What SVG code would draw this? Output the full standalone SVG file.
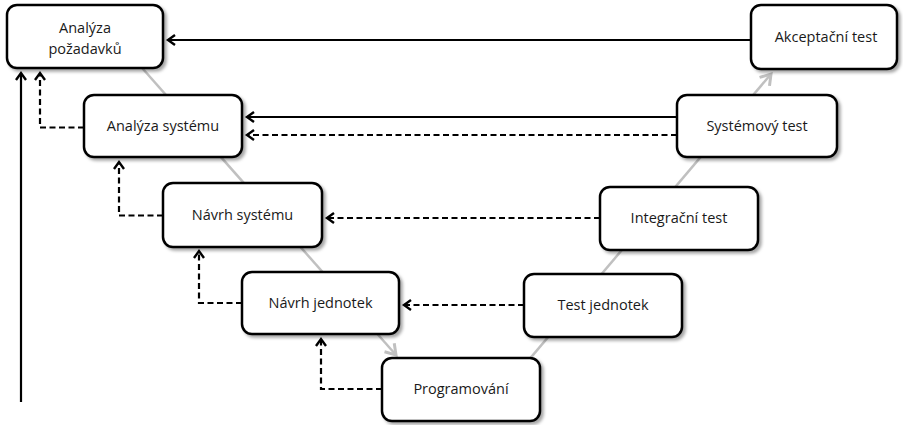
<svg xmlns="http://www.w3.org/2000/svg" width="903" height="425" viewBox="0 0 903 425">
<style>
.box{fill:#fff;stroke:#000;stroke-width:2.5;filter:url(#sh)}
.t{font-family:"Open Sans","Liberation Sans",sans-serif;font-size:14.5px;fill:#1a1a1a;text-anchor:middle}
.c{fill:none;stroke:#000;stroke-width:2.2}
.d{stroke-dasharray:6,3.5}
.g{fill:none;stroke:#c0c0c0;stroke-width:2.5}
</style>
<defs>
<filter id="sh" x="-10%" y="-10%" width="130%" height="140%">
<feDropShadow dx="2.5" dy="2.5" stdDeviation="1.5" flood-color="#000" flood-opacity="0.35"/>
</filter>
<marker id="a" markerUnits="userSpaceOnUse" markerWidth="14" markerHeight="14" viewBox="-10 -7 12 14" refX="0" refY="0" orient="auto">
<path d="M-7,-5 L0,0 L-7,5" fill="none" stroke="#000" stroke-width="2.4"/>
</marker>
<marker id="ag" markerUnits="userSpaceOnUse" markerWidth="18" markerHeight="18" viewBox="-12 -9 14 18" refX="0" refY="0" orient="auto">
<path d="M-10,-6.5 L0,0 L-10,6.5" fill="none" stroke="#c0c0c0" stroke-width="3"/>
</marker>
</defs>
<g id="guides">
<line class="g" x1="120" y1="43" x2="396" y2="355" marker-end="url(#ag)"/>
<line class="g" x1="505" y1="388" x2="771" y2="74" marker-end="url(#ag)"/>
</g>
<g id="connectors">
<line class="c" x1="751" y1="40" x2="168" y2="40" marker-end="url(#a)"/>
<line class="c" x1="677" y1="117" x2="247" y2="117" marker-end="url(#a)"/>
<line class="c d" x1="677" y1="135" x2="247" y2="135" marker-end="url(#a)"/>
<line class="c d" x1="600" y1="218" x2="327" y2="218" marker-end="url(#a)"/>
<line class="c d" x1="524" y1="305" x2="404" y2="305" marker-end="url(#a)"/>
<polyline class="c d" points="84,127.5 40,127.5 40,73" marker-end="url(#a)"/>
<polyline class="c d" points="163,215.5 119,215.5 119,162" marker-end="url(#a)"/>
<polyline class="c d" points="242,303 199,303 199,251" marker-end="url(#a)"/>
<polyline class="c d" points="382,389 321,389 321,339" marker-end="url(#a)"/>
<line class="c" x1="21" y1="402" x2="21" y2="73" marker-end="url(#a)"/>
</g>
<g id="n1"><rect class="box" x="7" y="5" width="156" height="63" rx="10"/><text class="t" x="85" y="33">Analýza</text><text class="t" x="85" y="54">požadavků</text></g>
<g id="n2"><rect class="box" x="84" y="95" width="158" height="62" rx="10"/><text class="t" x="163" y="131">Analýza systému</text></g>
<g id="n3"><rect class="box" x="163" y="183" width="159" height="64" rx="10"/><text class="t" x="242.5" y="220">Návrh systému</text></g>
<g id="n4"><rect class="box" x="242" y="272" width="157" height="62" rx="10"/><text class="t" x="320.5" y="308">Návrh jednotek</text></g>
<g id="n5"><rect class="box" x="382" y="358" width="158" height="63" rx="10"/><text class="t" x="461" y="394">Programování</text></g>
<g id="n6"><rect class="box" x="524" y="274" width="158" height="63" rx="10"/><text class="t" x="603" y="310">Test jednotek</text></g>
<g id="n7"><rect class="box" x="600" y="187" width="158" height="63" rx="10"/><text class="t" x="679" y="223">Integrační test</text></g>
<g id="n8"><rect class="box" x="677" y="95" width="160" height="62" rx="10"/><text class="t" x="757" y="131">Systémový test</text></g>
<g id="n9"><rect class="box" x="751" y="5" width="146" height="64" rx="10"/><text class="t" x="826" y="42">Akceptační test</text></g>
</svg>
